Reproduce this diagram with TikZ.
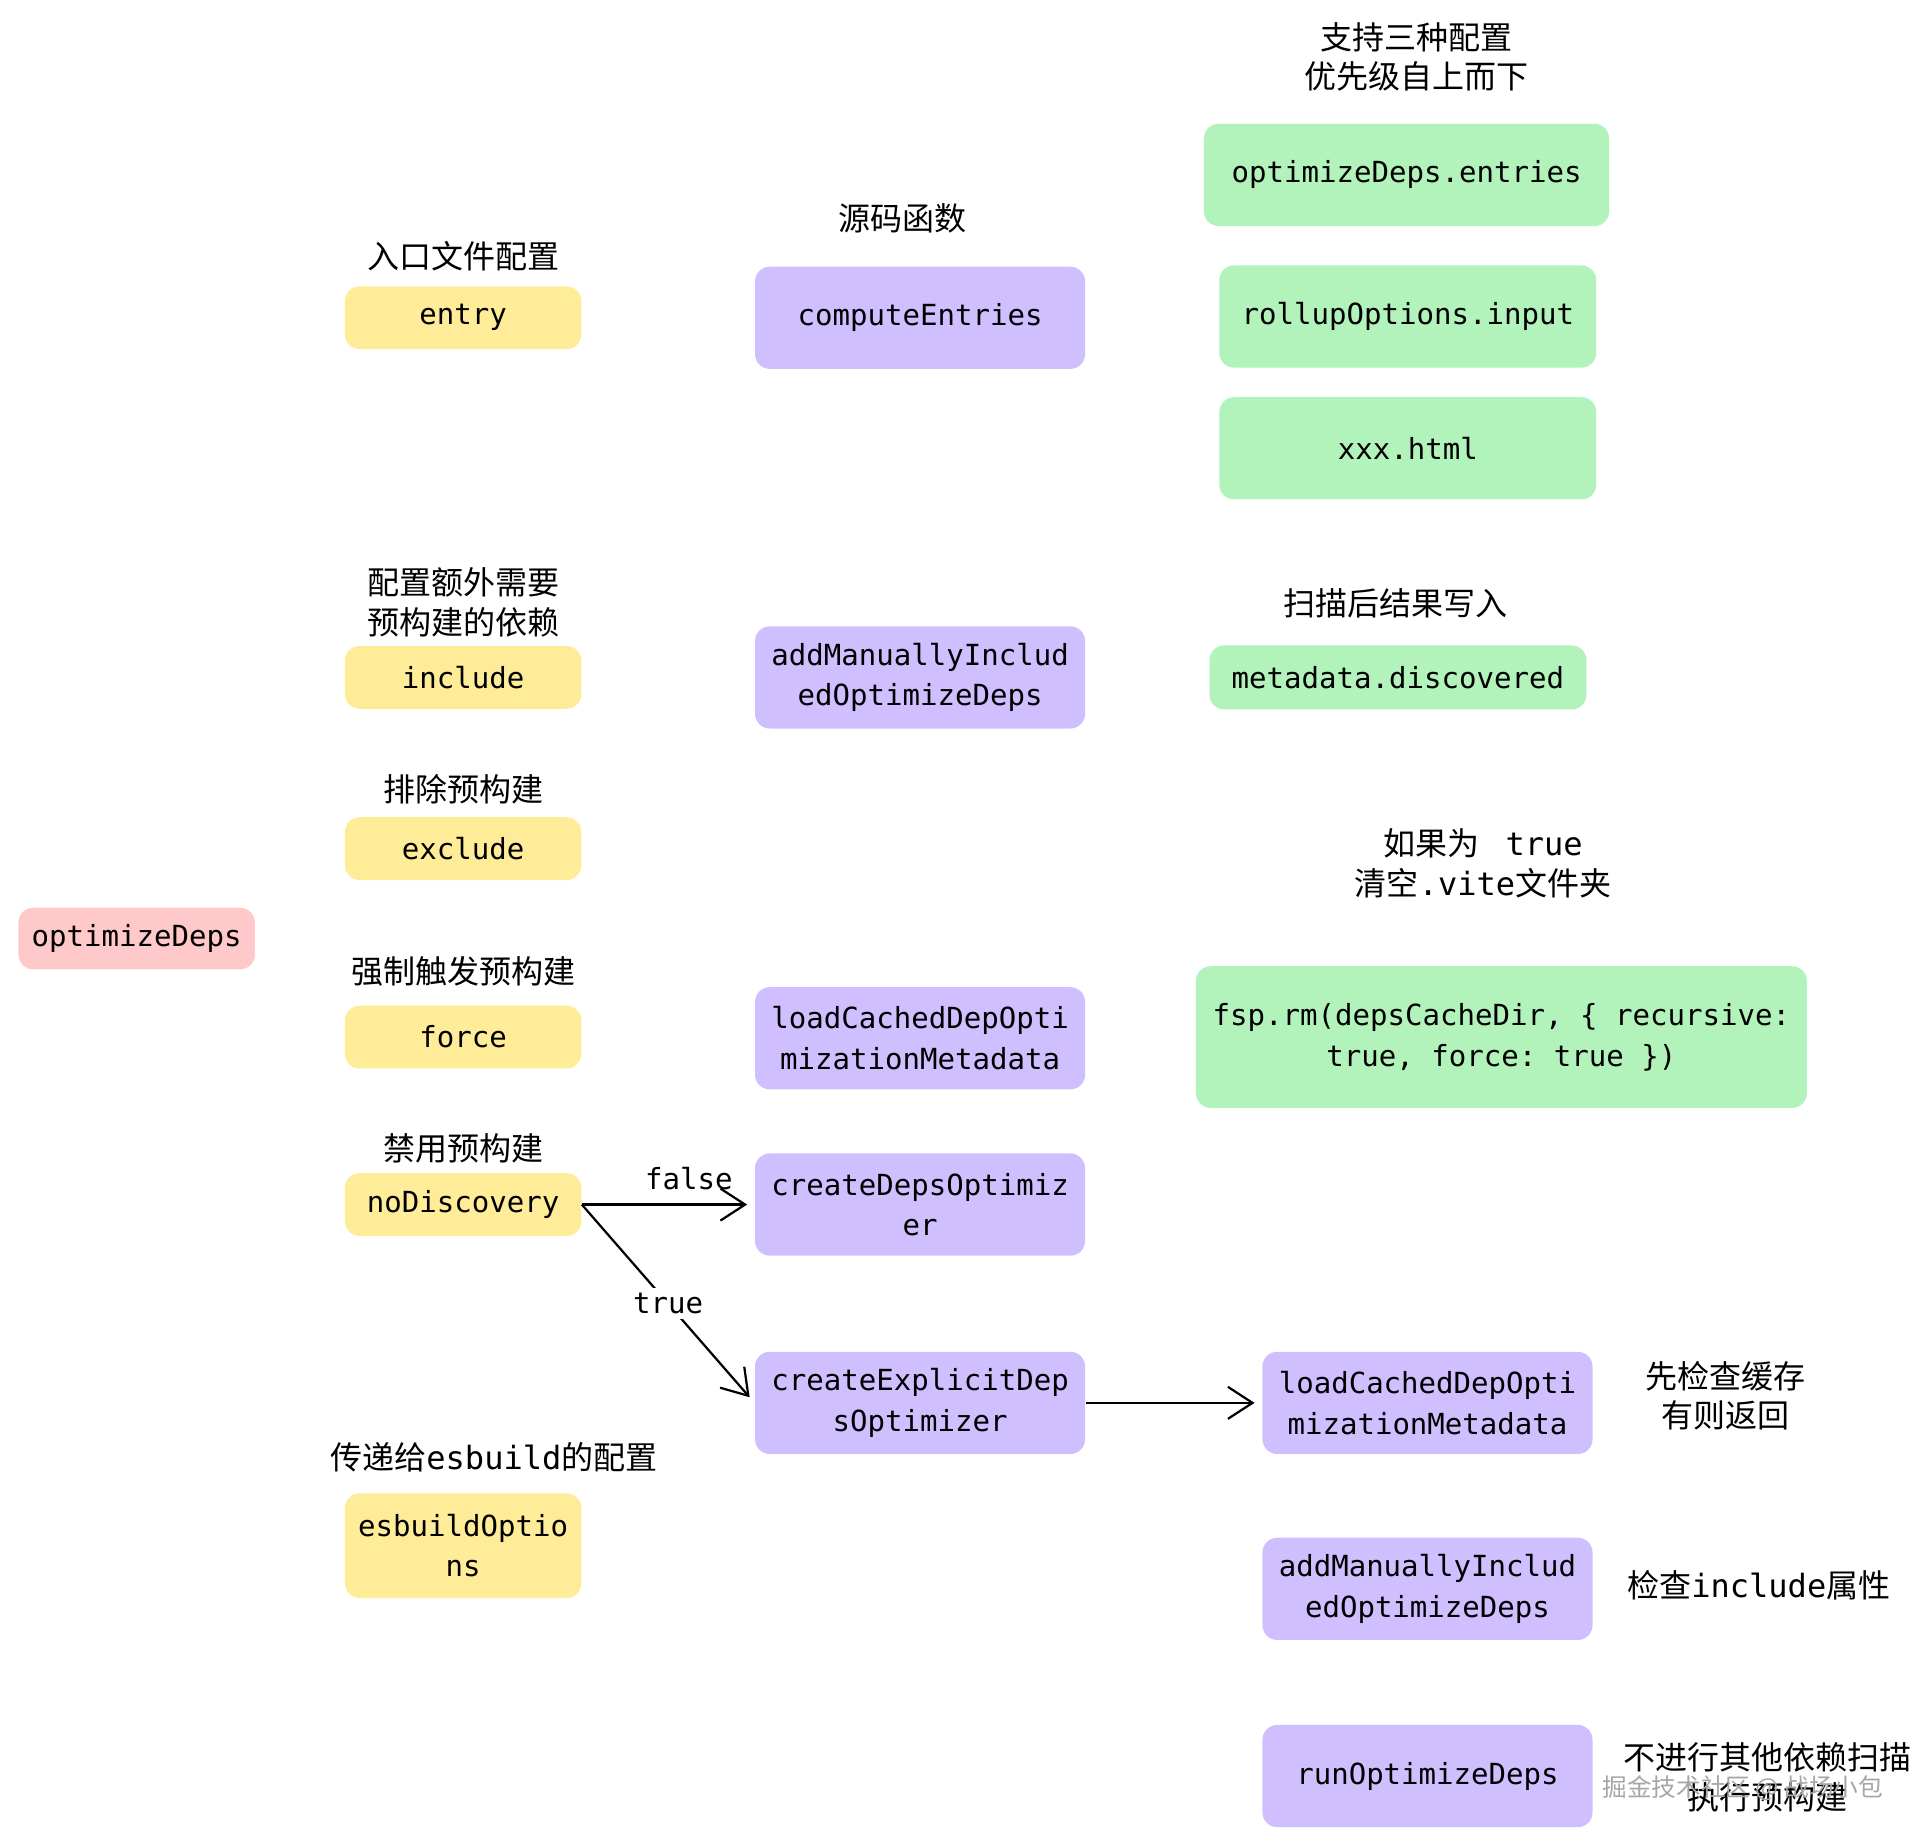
\documentclass[tikz,border=0pt]{standalone}
\usepackage{fontspec}
\setmainfont{Noto Sans CJK SC}
\setmonofont{DejaVu Sans Mono}
\usetikzlibrary{arrows.meta}
\definecolor{ylw}{HTML}{FFEC99}
\definecolor{prp}{HTML}{D0BFFF}
\definecolor{grn}{HTML}{B2F2BB}
\definecolor{pnk}{HTML}{FFC9C9}
\tikzset{
  box/.style={rounded corners=6pt, align=center, inner sep=0pt, font=\fontsize{11.8}{16.5}\selectfont\ttfamily},
  ybox/.style={box, fill=ylw, minimum width=96pt, minimum height=25.5pt},
  pbox/.style={box, fill=prp, minimum width=134pt, minimum height=41.5pt},
  gbox/.style={box, fill=grn, minimum height=41.5pt},
  rbox/.style={box, fill=pnk, minimum width=96pt, minimum height=25pt},
  lbl/.style={align=center, inner sep=0pt, font=\fontsize{13}{16}\selectfont},
  conn/.style={line width=0.9pt, -{Straight Barb[length=10pt,width=13pt,line width=0.9pt]}, shorten >=3pt}
}
\begin{document}
\begin{tikzpicture}[x=0.5pt, y=-0.5pt]
\useasboundingbox (0,0) rectangle (1567,1498);
% root
\node[rbox] (opt) at (111,762) {optimizeDeps};
% yellow options
\foreach \n/\y/\t in {entry/258/entry, incl/550/include, excl/689/exclude, force/842/force, nodisc/978/noDiscovery}{
  \node[ybox] (\n) at (376,\y) {\t};
}
\node[ybox, minimum height=42.5pt] (esb) at (376,1255) {esbuildOptio\\ns};
\node[lbl] (lentry) at (376,208) {入口文件配置};
\node[lbl] (lincl) at (376,489) {配置额外需要\\预构建的依赖};
\node[lbl] (lexcl) at (376,641) {排除预构建};
\node[lbl] (lforce) at (376,789) {强制触发预构建};
\node[lbl] (lnodisc) at (376,932) {禁用预构建};
\node[lbl] (lesb) at (401,1183) {传递给\texttt{esbuild}的配置};
% purple functions
\node[lbl] (lsrc) at (733,177) {源码函数};
\node[pbox] (comp) at (747,258) {computeEntries};
\node[pbox] (addm) at (747,550) {addManuallyInclud\\edOptimizeDeps};
\node[pbox] (lcache) at (747,843) {loadCachedDepOpti\\mizationMetadata};
\node[pbox] (cdeps) at (747,978) {createDepsOptimiz\\er};
\node[pbox] (cexp) at (747,1139) {createExplicitDep\\sOptimizer};
% green
\node[lbl] (lthree) at (1150,46) {支持三种配置\\优先级自上而下};
\node[gbox, minimum width=164.5pt] (ent) at (1142,142) {optimizeDeps.entries};
\node[gbox, minimum width=153pt] (roll) at (1143,257) {rollupOptions.input};
\node[gbox, minimum width=153pt] (html) at (1143,364) {xxx.html};
\node[lbl] (lscan) at (1133,490) {扫描后结果写入};
\node[gbox, minimum width=153pt, minimum height=26pt] (meta) at (1135,550) {metadata.discovered};
\node[lbl] (ltrue) at (1204,701) {如果为\ \texttt{\ true}\\清空\texttt{.vite}文件夹};
\node[gbox, minimum width=248pt, minimum height=57.5pt] (fsp) at (1219,842) {fsp.rm(depsCacheDir, \{ recursive:\\true, force: true \})};
% explicit optimizer steps
\node[pbox] (lc2) at (1159,1139) {loadCachedDepOpti\\mizationMetadata};
\node[pbox] (am2) at (1159,1290) {addManuallyInclud\\edOptimizeDeps};
\node[pbox] (run) at (1159,1442) {runOptimizeDeps};
\node[lbl] (llc2) at (1401,1133) {先检查缓存\\有则返回};
\node[lbl] (lam2) at (1428,1287) {检查\texttt{include}属性};
\node[lbl] (lrun) at (1435,1443) {不进行其他依赖扫描\\执行预构建};
\node[lbl, font=\fontsize{10}{12}\selectfont, text=gray!70] (wm) at (1415,1452) {掘金技术社区 @ 战场小包};
% connectors
\draw[conn] (nodisc.east) -- (cdeps.west) node[pos=0.62, above=2pt, font=\fontsize{11.8}{14}\selectfont\ttfamily] {false};
\draw[conn] (nodisc.east) -- (cexp.west) node[midway, fill=white, inner sep=2pt, font=\fontsize{11.8}{14}\selectfont\ttfamily] {true};
\draw[conn] (cexp.east) -- (lc2.west);
\end{tikzpicture}
\end{document}
